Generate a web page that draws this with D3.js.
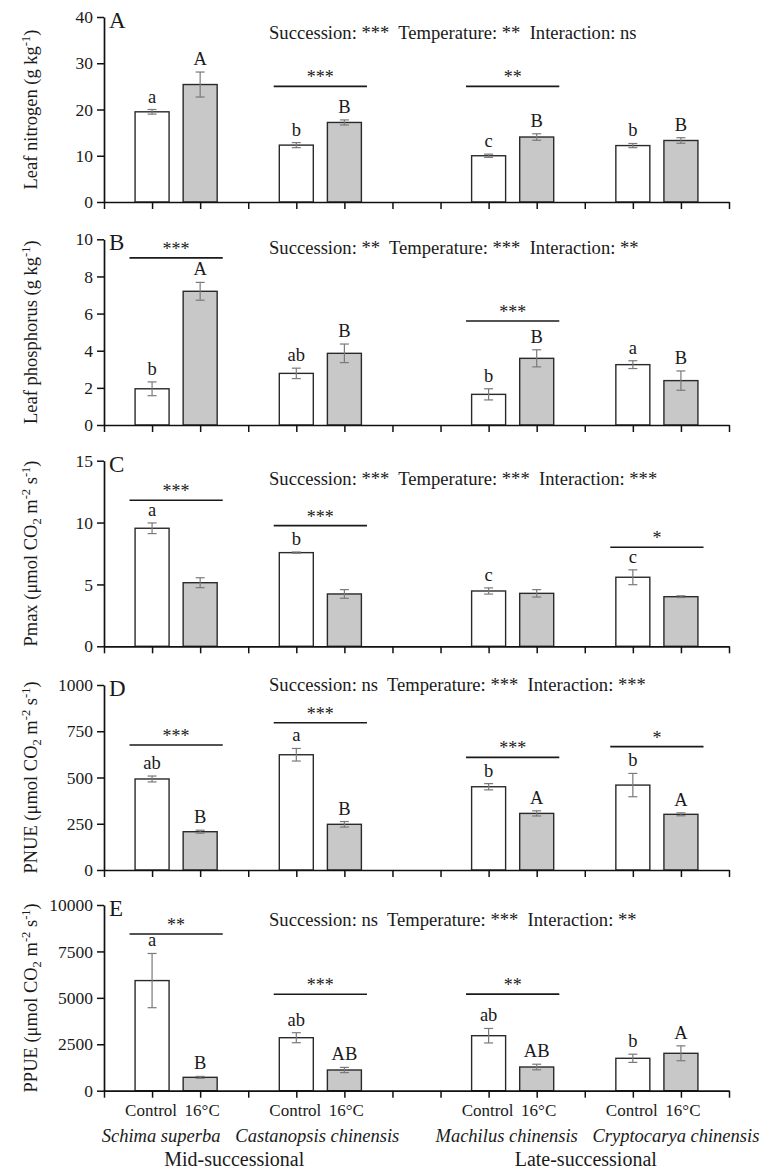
<!DOCTYPE html>
<html>
<head>
<meta charset="utf-8">
<script src="https://cdn.jsdelivr.net/npm/d3@7"></script>
<style>
  html, body { margin: 0; padding: 0; background: #fff; }
  svg { display: block; }
  text { font-family: "Liberation Serif", "Times New Roman", serif; fill: #1a1a1a; }
</style>
</head>
<body>
<svg id="chart" width="771" height="1176"></svg>
<script>
// ---------------- DATA ----------------
const species = ["Schima superba", "Castanopsis chinensis", "Machilus chinensis", "Cryptocarya chinensis"];
const treatments = ["Control", "16°C"];
const successions = ["Mid-successional", "Late-successional"];
const successionOfSpecies = ["Mid-successional", "Mid-successional", "Late-successional", "Late-successional"];

// order of bars: [S-Control, S-16, C-Control, C-16, M-Control, M-16, Cr-Control, Cr-16]
const nitrogenMean = [19.5, 25.4, 12.3, 17.2, 10.0, 14.05, 12.2, 13.3];
const nitrogenErr  = [0.5, 2.7, 0.55, 0.55, 0.35, 0.7, 0.45, 0.6];
const nitrogenLetters = ["a", "A", "b", "B", "c", "B", "b", "B"];
const nitrogenBrackets = [{ species: 1, value: 25, stars: "***" }, { species: 2, value: 25, stars: "**" }];
const nitrogenStats = ["***", "**", "ns"];
const nitrogenTicks = [0, 10, 20, 30, 40];

const phosphorusMean = [1.95, 7.2, 2.78, 3.86, 1.65, 3.59, 3.25, 2.39];
const phosphorusErr  = [0.37, 0.48, 0.28, 0.5, 0.3, 0.46, 0.21, 0.52];
const phosphorusLetters = ["b", "A", "ab", "B", "b", "B", "a", "B"];
const phosphorusBrackets = [{ species: 0, value: 9.0, stars: "***" }, { species: 2, value: 5.6, stars: "***" }];
const phosphorusStats = ["**", "***", "**"];
const phosphorusTicks = [0, 2, 4, 6, 8, 10];

const pmaxMean = [9.54, 5.14, 7.57, 4.23, 4.47, 4.28, 5.58, 4.01];
const pmaxErr  = [0.43, 0.4, 0.05, 0.35, 0.25, 0.3, 0.6, 0.07];
const pmaxLetters = ["a", "", "b", "", "c", "", "c", ""];
const pmaxBrackets = [{ species: 0, value: 11.8, stars: "***" }, { species: 1, value: 9.75, stars: "***" }, { species: 3, value: 8.0, stars: "*" }];
const pmaxStats = ["***", "***", "***"];
const pmaxTicks = [0, 5, 10, 15];

const pnueMean = [492, 207, 623, 247, 450, 306, 459, 301];
const pnueErr  = [16, 8, 34, 15, 17, 14, 63, 8];
const pnueLetters = ["ab", "B", "a", "B", "b", "A", "b", "A"];
const pnueBrackets = [{ species: 0, value: 676, stars: "***" }, { species: 1, value: 796, stars: "***" }, { species: 2, value: 609, stars: "***" }, { species: 3, value: 667, stars: "*" }];
const pnueStats = ["ns", "***", "***"];
const pnueTicks = [0, 250, 500, 750, 1000];

const ppueMean = [5930, 720, 2854, 1115, 2962, 1276, 1745, 2014];
const ppueErr  = [1460, 50, 270, 140, 390, 150, 220, 400];
const ppueLetters = ["a", "B", "ab", "AB", "ab", "AB", "b", "A"];
const ppueBrackets = [{ species: 0, value: 8440, stars: "**" }, { species: 1, value: 5190, stars: "***" }, { species: 2, value: 5200, stars: "**" }];
const ppueStats = ["ns", "***", "**"];
const ppueTicks = [0, 2500, 5000, 7500, 10000];

// ---------------- LAYOUT ----------------
const svg = d3.select("#chart");
const step0 = 104, stepEnd = 729;

// slots along the x axis (gaps between species, double gap between successional groups)
const slots = [];
let gapN = 0;
slots.push("gap" + (gapN++));
species.forEach((s, i) => {
  treatments.forEach(t => slots.push(s + "|" + t));
  slots.push("gap" + (gapN++));
  if (i < species.length - 1 && successionOfSpecies[i] !== successionOfSpecies[i + 1]) slots.push("gap" + (gapN++));
});
const x = d3.scalePoint().domain(slots).range([step0, stepEnd]);
const step = x.step();
const barKeys = [];
species.forEach(s => treatments.forEach(t => barKeys.push(s + "|" + t)));

const panels = [
  { label: "A", mean: nitrogenMean, err: nitrogenErr, letters: nitrogenLetters, brackets: nitrogenBrackets, stats: nitrogenStats, ticks: nitrogenTicks,
    title: [["Leaf nitrogen (g kg"], ["-1", "sup"], [")"]], top: 17, bottom: 202, statsDy: 22 },
  { label: "B", mean: phosphorusMean, err: phosphorusErr, letters: phosphorusLetters, brackets: phosphorusBrackets, stats: phosphorusStats, ticks: phosphorusTicks,
    title: [["Leaf phosphorus (g kg"], ["-1", "sup"], [")"]], top: 239.3, bottom: 425, statsDy: 15 },
  { label: "C", mean: pmaxMean, err: pmaxErr, letters: pmaxLetters, brackets: pmaxBrackets, stats: pmaxStats, ticks: pmaxTicks,
    title: [["Pmax (μmol CO"], ["2", "sub"], [" m"], ["-2", "sup"], [" s"], ["-1", "sup"], [")"]], top: 460.7, bottom: 646.3, statsDy: 24 },
  { label: "D", mean: pnueMean, err: pnueErr, letters: pnueLetters, brackets: pnueBrackets, stats: pnueStats, ticks: pnueTicks,
    title: [["PNUE (μmol CO"], ["2", "sub"], [" m"], ["-2", "sup"], [" s"], ["-1", "sup"], [")"]], top: 685, bottom: 870, statsDy: 6 },
  { label: "E", mean: ppueMean, err: ppueErr, letters: ppueLetters, brackets: ppueBrackets, stats: ppueStats, ticks: ppueTicks,
    title: [["PPUE (μmol CO"], ["2", "sub"], [" m"], ["-2", "sup"], [" s"], ["-1", "sup"], [")"]], top: 905, bottom: 1090.7, statsDy: 21 }
];

panels.forEach((p, pi) => {
  const g = svg.append("g");
  const y = d3.scaleLinear().domain([0, d3.max(p.ticks)]).range([p.bottom, p.top]);

  // bars
  const bars = barKeys.map((k, i) => ({ key: k, mean: p.mean[i], err: p.err[i], letter: p.letters[i], heated: i % 2 === 1 }));
  g.selectAll("rect.bar").data(bars).join("rect")
    .attr("class", "bar")
    .attr("x", d => x(d.key) - 17)
    .attr("width", 34)
    .attr("y", d => y(d.mean))
    .attr("height", d => y(0) - y(d.mean))
    .attr("fill", d => d.heated ? "#c8c8c8" : "#ffffff")
    .attr("stroke", "#2a2a2a")
    .attr("stroke-width", 1.4);

  // error bars
  const eb = g.selectAll("g.eb").data(bars).join("g").attr("class", "eb")
    .attr("stroke", "#7a7a7a").attr("stroke-width", 1.2);
  eb.append("line").attr("x1", d => x(d.key)).attr("x2", d => x(d.key))
    .attr("y1", d => y(d.mean - d.err)).attr("y2", d => y(d.mean + d.err));
  eb.append("line").attr("x1", d => x(d.key) - 4.5).attr("x2", d => x(d.key) + 4.5)
    .attr("y1", d => y(d.mean + d.err)).attr("y2", d => y(d.mean + d.err));
  eb.append("line").attr("x1", d => x(d.key) - 4.5).attr("x2", d => x(d.key) + 4.5)
    .attr("y1", d => y(d.mean - d.err)).attr("y2", d => y(d.mean - d.err));

  // letters
  g.selectAll("text.letter").data(bars.filter(d => d.letter)).join("text")
    .attr("class", "letter")
    .attr("x", d => x(d.key))
    .attr("y", d => y(d.mean + d.err) - 7)
    .attr("text-anchor", "middle")
    .attr("font-size", 18.5)
    .text(d => d.letter);

  // significance brackets
  p.brackets.forEach(b => {
    const s = species[b.species];
    const x1 = x(s + "|" + treatments[0]) - 0.47 * step;
    const x2 = x(s + "|" + treatments[1]) + 0.47 * step;
    g.append("line").attr("x1", x1).attr("x2", x2).attr("y1", y(b.value)).attr("y2", y(b.value))
      .attr("stroke", "#1a1a1a").attr("stroke-width", 1.6);
    g.append("text").attr("x", (x1 + x2) / 2).attr("y", y(b.value) - 3)
      .attr("text-anchor", "middle").attr("font-size", 18).attr("fill", "#333").text(b.stars);
  });

  // axes
  const yAxis = d3.axisLeft(y).tickValues(p.ticks).tickSize(7).tickSizeOuter(0).tickPadding(4).tickFormat(d3.format("d"));
  const ya = g.append("g").attr("transform", `translate(${step0},0)`).call(yAxis);
  const xAxis = d3.axisBottom(x).tickValues(slots).tickSize(7).tickSizeOuter(0).tickFormat("");
  const xa = g.append("g").attr("transform", `translate(0,${y(0)})`).call(xAxis);
  [ya, xa].forEach(a => {
    a.select(".domain").attr("stroke", "#111").attr("stroke-width", 1.7);
    a.selectAll(".tick line").attr("stroke", "#111").attr("stroke-width", 1.5);
    a.selectAll(".tick text").attr("font-family", "Liberation Serif").attr("font-size", 17.5).attr("fill", "#1a1a1a");
  });

  // panel label
  g.append("text").attr("x", step0 + 5).attr("y", p.top + 11).attr("font-size", 23).text(p.label);

  // stats text
  const st = g.append("text").attr("x", 269).attr("y", p.top + p.statsDy).attr("font-size", 18.6)
    .style("white-space", "pre");
  st.text(`Succession: ${p.stats[0]}  Temperature: ${p.stats[1]}  Interaction: ${p.stats[2]}`);

  // y title
  const tt = g.append("text")
    .attr("transform", `translate(37,${(p.top + p.bottom) / 2}) rotate(-90)`)
    .attr("text-anchor", "middle").attr("font-size", 18.5);
  p.title.forEach(([t, kind], i) => {
    const prev = i > 0 ? p.title[i - 1][1] : null;
    let dy = 0;
    if (prev === "sup") dy += 7; if (prev === "sub") dy -= 4;
    if (kind === "sup") dy -= 7; if (kind === "sub") dy += 4;
    tt.append("tspan").attr("dy", dy).attr("font-size", kind ? 12.5 : 18.5).text(t);
  });

  // x labels on bottom panel
  if (pi === panels.length - 1) {
    const base = y(0);
    g.selectAll("text.treat").data(barKeys).join("text").attr("class", "treat")
      .attr("x", d => x(d) + (d.endsWith(treatments[1]) ? 2 : -1))
      .attr("y", base + 25).attr("text-anchor", "middle").attr("font-size", 17)
      .text(d => d.split("|")[1]);
    const speciesDx = [-15, -3, -6, 19];
    g.selectAll("text.sp").data(species).join("text").attr("class", "sp")
      .attr("x", (d, i) => (x(d + "|" + treatments[0]) + x(d + "|" + treatments[1])) / 2 + speciesDx[i])
      .attr("y", base + 51).attr("text-anchor", "middle").attr("font-size", 18.5).attr("font-style", "italic")
      .text(d => d);
    const succDx = [-14, 1];
    g.selectAll("text.succ").data(successions).join("text").attr("class", "succ")
      .attr("x", (d, i) => {
        const xs = species.filter((s, j) => successionOfSpecies[j] === d)
          .map(s => (x(s + "|" + treatments[0]) + x(s + "|" + treatments[1])) / 2);
        return d3.mean(xs) + succDx[i];
      })
      .attr("y", base + 75).attr("text-anchor", "middle").attr("font-size", 20)
      .text(d => d);
  }
});
</script>
</body>
</html>
